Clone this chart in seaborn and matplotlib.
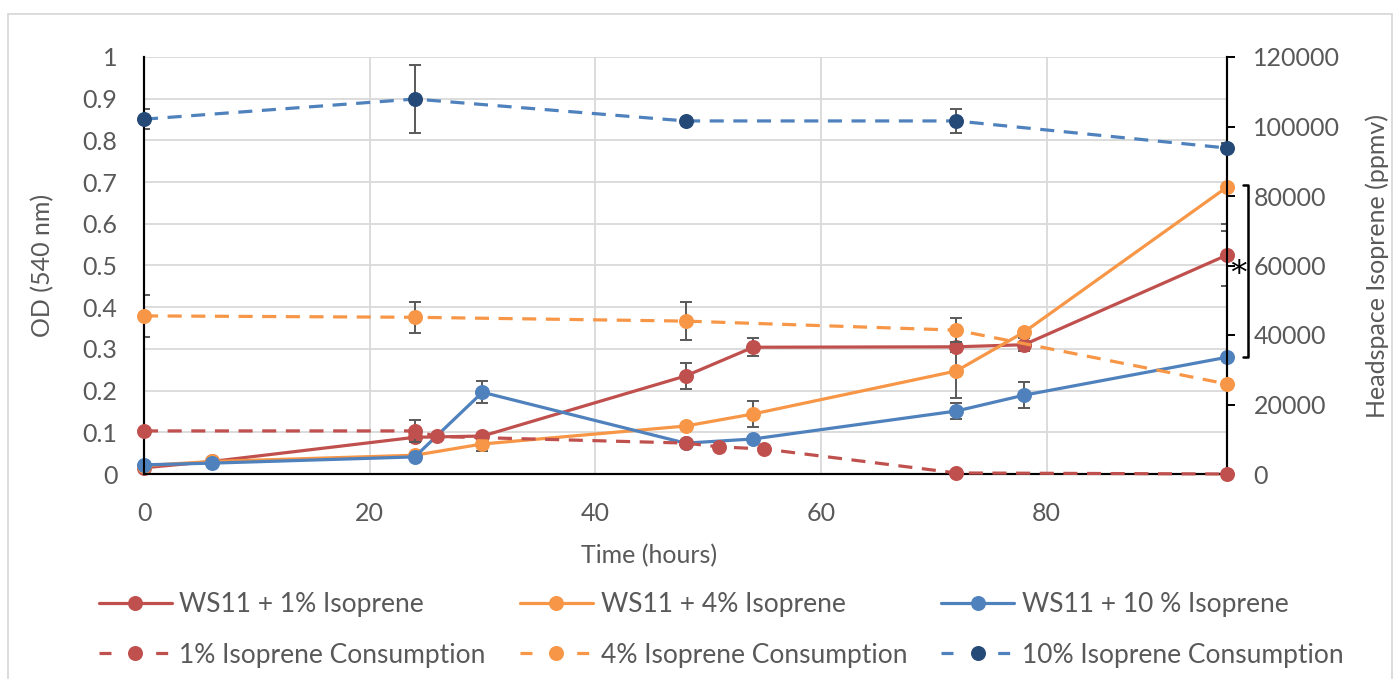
import numpy as np
import pandas as pd
import matplotlib
matplotlib.use("Agg")
import matplotlib.pyplot as plt
import matplotlib.transforms as mtransforms
from matplotlib.patches import Rectangle
from matplotlib.lines import Line2D
from matplotlib.ticker import FuncFormatter, MultipleLocator
import seaborn as sns

# ---------------- data ----------------
time_growth = [0, 6, 24, 30, 48, 54, 72, 78, 96]
od_1pct = [0.015, 0.03, 0.088, 0.091, 0.235, 0.304, 0.305, 0.31, 0.525]
od_1pct_err = [0, 0, 0, 0, 0.031, 0.021, 0.012, 0.015, 0.075]
od_4pct = [0.02, 0.03, 0.045, 0.072, 0.115, 0.144, 0.247, 0.34, 0.688]
od_4pct_err = [0, 0, 0, 0.018, 0, 0.031, 0.065, 0, 0.105]
od_10pct = [0.022, 0.026, 0.041, 0.196, 0.074, 0.084, 0.151, 0.189, 0.28]
od_10pct_err = [0, 0, 0, 0.026, 0, 0, 0.02, 0.031, 0]

time_cons_1 = [0, 24, 26, 48, 51, 55, 72, 96]
cons_1pct = [12400, 12400, 10800, 8900, 7800, 7200, 300, 0]
cons_1pct_err = [0, 3200, 0, 0, 0, 0, 0, 0]
time_cons = [0, 24, 48, 72, 96]
cons_4pct = [45500, 45100, 44000, 41400, 25900]
cons_4pct_err = [6000, 4500, 5400, 3500, 0]
cons_10pct = [102100, 107900, 101600, 101600, 93800]
cons_10pct_err = [2800, 9800, 0, 3400, 0]

labels_growth = ["WS11 + 1% Isoprene", "WS11 + 4% Isoprene", "WS11 + 10 % Isoprene"]
labels_cons = ["1% Isoprene Consumption", "4% Isoprene Consumption", "10% Isoprene Consumption"]

# ---------------- style ----------------
RED = "#C0504D"
ORANGE = "#F79646"
BLUE = "#4F81BD"
NAVY = "#254A78"
GREY_TXT = "#595959"
GRID = "#D9D9D9"
ERR = "#595959"

sns.set_theme(style="white")
plt.rcParams["font.family"] = ["Lato", "DejaVu Sans"]
FS = 18

fig = plt.figure(figsize=(13.94, 6.79), dpi=100)
ax = fig.add_axes([144 / 1394, 1 - 474 / 679, (1227 - 144) / 1394, (474 - 57) / 679])
ax2 = ax.twinx()

LW = 2.3
MS = 10.8
DASH = (0, (4.4, 3.0))

def draw(axis, x, y, err, color, ls="-", mfc=None):
    df = pd.DataFrame({"x": x, "y": y})
    sns.lineplot(data=df, x="x", y="y", ax=axis, color=color, linewidth=LW,
                 linestyle=ls, marker="o", markersize=MS,
                 markerfacecolor=mfc or color, markeredgecolor=mfc or color,
                 markeredgewidth=0, zorder=3, errorbar=None, clip_on=False)
    xe = [a for a, e in zip(x, err) if e > 0]
    ye = [b for b, e in zip(y, err) if e > 0]
    ee = [e for e in err if e > 0]
    if ee:
        axis.errorbar(xe, ye, yerr=ee, fmt="none", ecolor=ERR, elinewidth=1.4,
                      capsize=4.5, capthick=1.4, zorder=2)

draw(ax, time_growth, od_1pct, od_1pct_err, RED)
draw(ax, time_growth, od_4pct, od_4pct_err, ORANGE)
draw(ax, time_growth, od_10pct, od_10pct_err, BLUE)

draw(ax2, time_cons_1, cons_1pct, cons_1pct_err, RED, ls=DASH)
draw(ax2, time_cons, cons_4pct, cons_4pct_err, ORANGE, ls=DASH)
draw(ax2, time_cons, cons_10pct, cons_10pct_err, BLUE, ls=DASH, mfc=NAVY)

# ---------------- axes ----------------
ax.set_xlim(0, 96)
ax.set_ylim(0, 1)
ax2.set_ylim(0, 120000)
ax.xaxis.set_major_locator(MultipleLocator(20))
ax.yaxis.set_major_locator(MultipleLocator(0.1))
ax2.yaxis.set_major_locator(MultipleLocator(20000))
ax.yaxis.set_major_formatter(FuncFormatter(lambda v, p: f"{v:g}"))
ax2.yaxis.set_major_formatter(FuncFormatter(lambda v, p: f"{int(round(v))}"))

ax.grid(True, color=GRID, linewidth=1.3)
ax2.grid(False)
ax.set_axisbelow(True)

for a in (ax, ax2):
    a.spines["top"].set_visible(False)
    for s in ("left", "right", "bottom"):
        a.spines[s].set_color("black")
        a.spines[s].set_linewidth(1.5)

ax.tick_params(axis="x", length=0, pad=20, labelsize=FS, labelcolor=GREY_TXT)
ax.tick_params(axis="y", length=0, pad=19, labelsize=FS, labelcolor=GREY_TXT)
ax2.tick_params(axis="y", right=True, direction="out", length=6, width=1.4,
                color="black", pad=13, labelsize=FS, labelcolor=GREY_TXT)

ax.set_xlabel("Time (hours)", fontsize=FS, color=GREY_TXT)
ax.set_ylabel("OD (540 nm)", fontsize=FS, color=GREY_TXT)
ax2.set_ylabel("Headspace Isoprene (ppmv)", fontsize=FS, color=GREY_TXT)
ax.xaxis.set_label_coords(0.466, -0.168)
ax.yaxis.set_label_coords(-0.083, 0.5)
ax2.yaxis.set_label_coords(1.128, 0.5)

# significance bracket
trans = mtransforms.blended_transform_factory(ax2.transAxes, ax2.transData)
xb, xa = 1.0194, 1.0145
yt, yb = 83200, 33700
ax2.plot([xa, xb, xb, xa], [yt, yt, yb, yb], color="black", lw=1.8,
         transform=trans, clip_on=False, zorder=5)
ax2.text(1.0105, 57500, "*", transform=trans, ha="center", va="center",
         fontsize=24, color="black", clip_on=False, family="DejaVu Sans")

# ---------------- legend ----------------
def handle(color, dashed, mfc=None):
    ls = (0, (3.75, 14.0)) if dashed else "-"
    return Line2D([], [], color=color, lw=LW, linestyle=ls, marker="o",
                  markersize=MS, markerfacecolor=mfc or color,
                  markeredgecolor=mfc or color, markeredgewidth=0)

handles = [handle(RED, False), handle(RED, True),
           handle(ORANGE, False), handle(ORANGE, True),
           handle(BLUE, False), handle(BLUE, True, NAVY)]
labels = [labels_growth[0], labels_cons[0], labels_growth[1], labels_cons[1],
          labels_growth[2], labels_cons[2]]
fig.legend(handles, labels, ncol=3, loc="center left",
           bbox_to_anchor=(99 / 1394, 1 - 630 / 679), frameon=False,
           fontsize=19, labelcolor=GREY_TXT, handlelength=2.75,
           handletextpad=0.3, columnspacing=1.3, labelspacing=0.95,
           borderaxespad=0, borderpad=0)

# outer border
fig.patches.append(Rectangle((8 / 1394, -0.01), (1392 - 8) / 1394, 1 - 14 / 679 + 0.01,
                             transform=fig.transFigure, fill=False,
                             edgecolor=GRID, linewidth=1.3))

fig.savefig("out.png", dpi=100)
